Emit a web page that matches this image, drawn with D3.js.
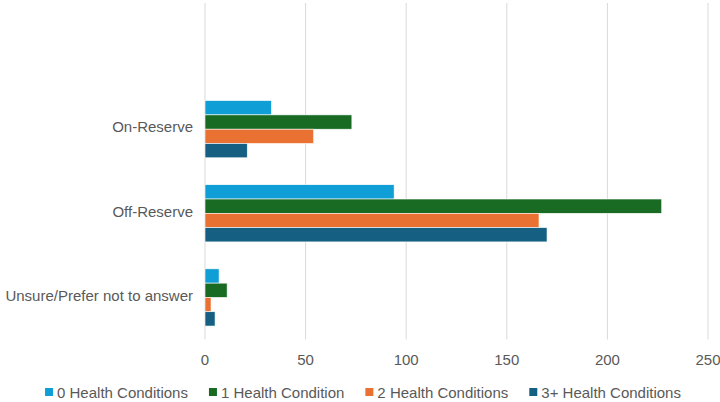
<!DOCTYPE html>
<html>
<head>
<meta charset="utf-8">
<script src="https://cdn.jsdelivr.net/npm/d3@7"></script>
<style>
  body { margin: 0; background: #fff; }
  text { font-family: "Liberation Sans", Arial, sans-serif; fill: #595959; }
</style>
</head>
<body>
<script>
// chart size
let w = 720,
    h = 402;

// categories top to bottom (first one is blank in the source chart)
let categories = ["", "On-Reserve", "Off-Reserve", "Unsure/Prefer not to answer"];
let seriesNames = ["0 Health Conditions", "1 Health Condition", "2 Health Conditions", "3+ Health Conditions"];
let colors = ["#0F9ED5", "#196B24", "#E97132", "#156082"];

// values per series, same order as categories
let zeroCond  = [null, 33, 94, 7];
let oneCond   = [null, 73, 227, 11];
let twoCond   = [null, 54, 166, 3];
let threeCond = [null, 21, 170, 5];
let xTicks = [0, 50, 100, 150, 200, 250];

let series = [zeroCond, oneCond, twoCond, threeCond];

let margin = {top: 3, right: 12, bottom: 62, left: 205};

let svg = d3.select("body")
    .append("svg")
    .attr("width", w)
    .attr("height", h);

let x = d3.scaleLinear()
    .domain([0, 250])
    .range([margin.left, 708]);

let y = d3.scaleBand()
    .domain(categories)
    .range([margin.top, 339.5])
    .paddingInner(0.32)
    .paddingOuter(0.16);

let yInner = d3.scaleBand()
    .domain(d3.range(seriesNames.length))
    .range([0, y.bandwidth()]);

// gridlines
svg.append("g")
    .selectAll("line")
    .data(xTicks)
    .enter()
    .append("line")
        .attr("x1", d => x(d))
        .attr("x2", d => x(d))
        .attr("y1", 3)
        .attr("y2", 339.5)
        .attr("stroke", "#d9d9d9")
        .attr("stroke-width", 1);

// x tick labels
svg.append("g")
    .selectAll("text")
    .data(xTicks)
    .enter()
    .append("text")
        .text(d => d)
        .attr("x", d => x(d))
        .attr("y", 365)
        .attr("text-anchor", "middle")
        .attr("font-size", "15px");

// category labels
svg.append("g")
    .selectAll("text")
    .data(categories)
    .enter()
    .append("text")
        .text(d => d)
        .attr("x", 193)
        .attr("y", d => y(d) + y.bandwidth() / 2 - 2)
        .attr("dy", "0.35em")
        .attr("text-anchor", "end")
        .attr("font-size", "15px");

// bars
series.forEach((vals, si) => {
    svg.append("g")
        .selectAll("rect")
        .data(categories.map((c, ci) => ({cat: c, v: vals[ci]})).filter(d => d.v != null))
        .enter()
        .append("rect")
            .attr("x", x(0))
            .attr("y", d => y(d.cat) + yInner(si))
            .attr("width", d => x(d.v) - x(0))
            .attr("height", yInner.bandwidth())
            .attr("fill", colors[si])
            .attr("stroke", "#fff")
            .attr("stroke-width", 0.6);
});

// legend
let legend = svg.append("g");
let items = legend.selectAll("g")
    .data(seriesNames)
    .enter()
    .append("g");

items.append("rect")
    .attr("width", 8)
    .attr("height", 8)
    .attr("y", 388)
    .attr("fill", (d, i) => colors[i]);

items.append("text")
    .text(d => d)
    .attr("x", 12)
    .attr("y", 397.5)
    .attr("font-size", "15px");

// lay out legend items side by side, centred
let gap = 21, pos = 0, offsets = [];
items.each(function() {
    offsets.push(pos);
    pos += this.getBBox().width + gap;
});
let total = pos - gap;
let start = (w - total) / 2 + 3;
items.attr("transform", (d, i) => `translate(${start + offsets[i]},0)`);
</script>
</body>
</html>
